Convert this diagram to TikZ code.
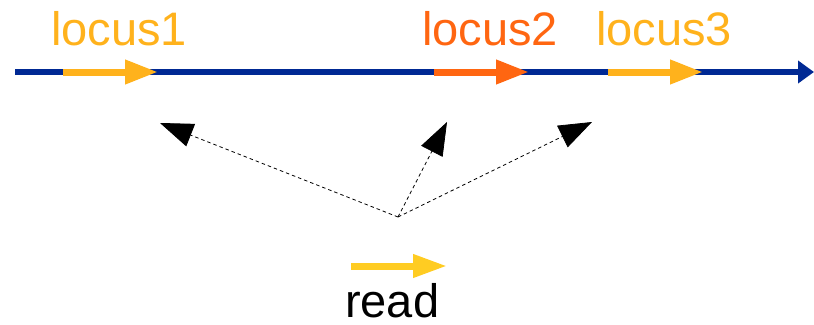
\documentclass[tikz,border=0pt]{standalone}
\usepackage{fontspec}
\setmainfont{Liberation Sans}
\usetikzlibrary{arrows.meta}
\definecolor{chrom}{RGB}{0,41,148}
\definecolor{locyellow}{RGB}{255,178,28}
\definecolor{locorange}{RGB}{255,102,17}
\definecolor{readgold}{RGB}{255,204,34}
\begin{document}
\begin{tikzpicture}[x=1pt,y=-1pt,
  chromline/.style={draw=chrom,line width=5.5pt,-{Triangle[length=16pt,width=22pt]}},
  locusarrow/.style={line width=7pt,-{Triangle[length=33pt,width=23pt]}},
  maparrow/.style={draw=black,line width=0.8pt,dash pattern=on 3.5pt off 3pt,-{Triangle[length=33pt,width=24pt]}},
  lbl/.style={inner sep=0pt,anchor=base west,font=\fontsize{47}{50}\selectfont}]
  \useasboundingbox[fill=white] (0,0) rectangle (814,324);

  % chromosome axis
  \coordinate (cs) at (15,72);
  \coordinate (ce) at (814,72);
  \draw[chromline] (cs) -- (ce);

  % loci on the chromosome
  \coordinate (l1s) at (63,72);  \coordinate (l1e) at (158,72);
  \coordinate (l2s) at (434,72); \coordinate (l2e) at (529,72);
  \coordinate (l3s) at (608,72); \coordinate (l3e) at (703,72);
  \draw[locusarrow,draw=locyellow,-{Triangle[length=33pt,width=23pt,fill=locyellow]}] (l1s) -- (l1e);
  \draw[locusarrow,draw=locorange,-{Triangle[length=33pt,width=23pt,fill=locorange]}] (l2s) -- (l2e);
  \draw[locusarrow,draw=locyellow,-{Triangle[length=33pt,width=23pt,fill=locyellow]}] (l3s) -- (l3e);

  \node[lbl,text=locyellow] (t1) at (51,45) {locus1};
  \node[lbl,text=locorange] (t2) at (422,45) {locus2};
  \node[lbl,text=locyellow] (t3) at (596,45) {locus3};

  % candidate mappings of the read
  \coordinate (org) at (398,217);
  \coordinate (m1) at (160,123);
  \coordinate (m2) at (447,122);
  \coordinate (m3) at (592,122);
  \draw[maparrow] (org) -- (m1);
  \draw[maparrow] (org) -- (m2);
  \draw[maparrow] (org) -- (m3);

  % the read
  \coordinate (rs) at (351,266);
  \coordinate (re) at (447,266);
  \draw[line width=7pt,draw=readgold,-{Triangle[length=34pt,width=22pt,fill=readgold]}] (rs) -- (re);
  \node[lbl,text=black,text depth=0pt] (rd) at (345,317) {read};
\end{tikzpicture}
\end{document}
